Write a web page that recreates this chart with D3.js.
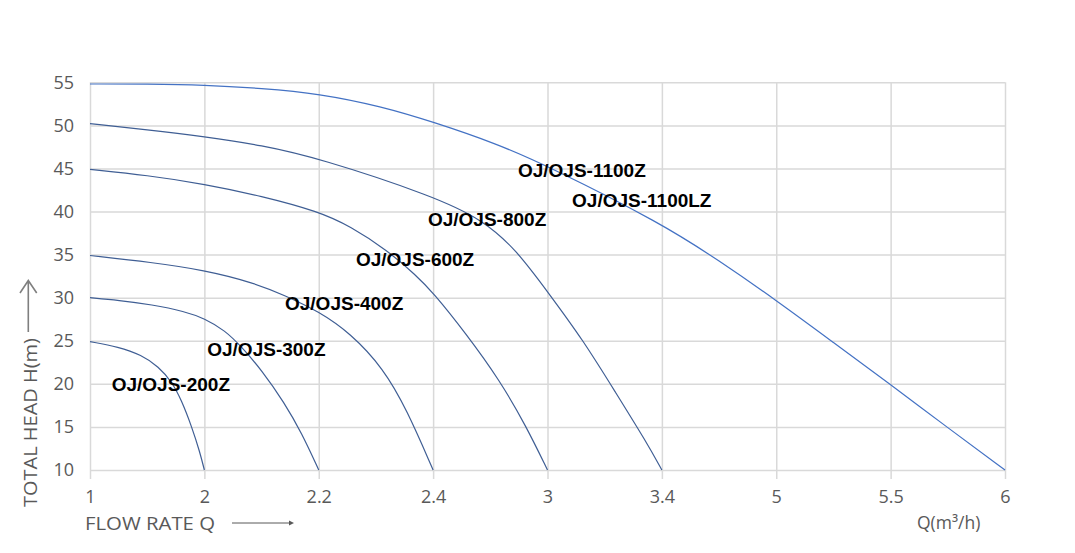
<!DOCTYPE html>
<html>
<head>
<meta charset="utf-8">
<script src="https://cdn.jsdelivr.net/npm/d3@7"></script>
<style>
  body { margin: 0; background: #fff; }
  .tick text { fill: #595959; font-family: "Open Sans", sans-serif; font-size: 18px; }
  .grid line { stroke: #d9d9d9; stroke-width: 1.5; }
  .grid path { display: none; }
  .lbl { font-family: "Liberation Sans", Arial, sans-serif; font-weight: bold; font-size: 19px; fill: #000; }
  .title { font-family: "Open Sans", sans-serif; fill: #595959; }
</style>
</head>
<body>
<div id="chart"></div>
<script>
// tick labels on the flow axis (evenly spaced in the original)
var xTicks = [1, 2, 2.2, 2.4, 3, 3.4, 5, 5.5, 6];
var yTicks = [10, 15, 20, 25, 30, 35, 40, 45, 50, 55];

// pump curves: flow Q (m3/h) and head H (m)
var q200 = [1, 1.25, 1.45, 1.6, 1.715, 1.8, 1.89, 1.96, 2];
var h200 = [24.9, 24.3, 23.35, 22.0, 20.25, 18.1, 15.0, 12.1, 10];

var q300 = [1, 1.25, 1.54, 1.83, 2, 2.036, 2.065, 2.1, 2.14, 2.17, 2.2];
var h300 = [30.0, 29.7, 29.2, 28.4, 27.6, 26.2, 24.3, 21.6, 17.8, 14.3, 10];

var q400 = [1, 1.54, 2, 2.083, 2.14, 2.2, 2.255, 2.313, 2.354, 2.4];
var h400 = [34.9, 34.1, 33.2, 31.8, 30.3, 28.4, 25.9, 21.8, 17.0, 10];

var q600 = [1, 1.5, 2, 2.1, 2.2, 2.255, 2.32, 2.37, 2.4, 2.57, 2.75, 2.89, 3];
var h600 = [44.9, 44.2, 43.2, 41.8, 40.0, 38.3, 35.5, 32.6, 30.6, 25.9, 20.4, 15.0, 10];

var q800 = [1, 1.5, 2, 2.1, 2.2, 2.4, 2.664, 2.838, 3, 3.124, 3.24, 3.345, 3.4];
var h800 = [50.2, 49.5, 48.7, 47.7, 46.2, 41.8, 39.0, 35.5, 30.7, 25.1, 18.9, 13.3, 10];

var q1100 = [1, 1.5, 2, 2.1, 2.2, 2.31, 2.4, 2.73, 3, 3.4, 4.2, 5, 5.25, 5.5, 5.75, 6];
var h1100 = [54.8, 54.8, 54.7, 54.3, 53.7, 52.2, 50.4, 47.9, 45.3, 38.6, 34.3, 29.7, 24.8, 19.9, 14.9, 10];

var series = [
  {q: q200, h: h200, color: "#3f5e94"},
  {q: q300, h: h300, color: "#3f5e94"},
  {q: q400, h: h400, color: "#3f5e94"},
  {q: q600, h: h600, color: "#3f5e94"},
  {q: q800, h: h800, color: "#3f5e94"},
  {q: q1100, h: h1100, color: "#4472c4"}
];

// model names and where they sit (data units: left edge flow, centre head)
var labelNames = ["OJ/OJS-200Z", "OJ/OJS-300Z", "OJ/OJS-400Z", "OJ/OJS-600Z", "OJ/OJS-800Z", "OJ/OJS-1100Z", "OJ/OJS-1100LZ"];
var labelQ = [1.19, 2.005, 2.141, 2.265, 2.391, 2.845, 3.086];
var labelH = [19.9, 24.0, 29.4, 34.4, 39.1, 44.8, 41.3];

var width = 1075, height = 553;
var margin = {top: 82.3, right: 70, bottom: 83, left: 90};
var plotW = width - margin.left - margin.right;
var plotH = height - margin.top - margin.bottom;

var svg = d3.select("#chart").append("svg")
  .attr("width", width)
  .attr("height", height)
  .style("background", "#fff");

// category-like axis: every tick label gets the same width
var x = d3.scaleLinear()
  .domain(xTicks)
  .range(xTicks.map(function (d, i) { return margin.left + i * plotW / (xTicks.length - 1); }));

var y = d3.scaleLinear()
  .domain([10, 55])
  .range([margin.top + plotH, margin.top]);

// horizontal grid + y labels
svg.append("g")
  .attr("class", "grid")
  .attr("transform", "translate(" + margin.left + ",0)")
  .call(d3.axisLeft(y).tickValues(yTicks).tickSize(-plotW).tickPadding(16).tickFormat(d3.format("d")));

// vertical grid + x labels, ticks poke below the axis
var tickOut = 9;
svg.append("g")
  .attr("class", "grid")
  .attr("transform", "translate(0," + (margin.top + plotH + tickOut) + ")")
  .call(d3.axisBottom(x).tickValues(xTicks).tickSize(-(plotH + tickOut)).tickPadding(11).tickFormat(function (d) { return d; }));

svg.selectAll(".grid .tick line").attr("stroke", "#d9d9d9");

// smoothed like the spreadsheet's "smoothed line"
var line = d3.line()
  .x(function (d) { return x(d[0]); })
  .y(function (d) { return y(d[1]); })
  .curve(d3.curveBasis);

svg.append("g").selectAll("path")
  .data(series)
  .enter().append("path")
  .attr("d", function (s) { return line(d3.zip(s.q, s.h)); })
  .attr("fill", "none")
  .attr("stroke", function (s) { return s.color; })
  .attr("stroke-width", 1.2);

svg.append("g").selectAll("text")
  .data(labelNames)
  .enter().append("text")
  .attr("class", "lbl")
  .attr("x", function (d, i) { return x(labelQ[i]); })
  .attr("y", function (d, i) { return y(labelH[i]); })
  .attr("dy", "0.35em")
  .text(function (d) { return d; });

// axis titles
var bottomY = margin.top + plotH;

svg.append("text")
  .attr("class", "title")
  .attr("x", 85)
  .attr("y", bottomY + 60)
  .attr("font-size", 18)
  .attr("textLength", 130)
  .attr("lengthAdjust", "spacingAndGlyphs")
  .text("FLOW RATE Q");

svg.append("line")
  .attr("x1", 232).attr("x2", 290)
  .attr("y1", bottomY + 53).attr("y2", bottomY + 53)
  .attr("stroke", "#595959").attr("stroke-width", 1);
svg.append("path")
  .attr("d", "M294," + (bottomY + 53) + "l-5,-2.5v5z")
  .attr("fill", "#595959");

svg.append("text")
  .attr("class", "title")
  .attr("x", 917)
  .attr("y", bottomY + 59)
  .attr("font-size", 17.5)
  .text("Q(m³/h)");

svg.append("text")
  .attr("class", "title")
  .attr("transform", "translate(37," + (bottomY + 37) + ") rotate(-90)")
  .attr("font-size", 18)
  .attr("textLength", 169)
  .attr("lengthAdjust", "spacingAndGlyphs")
  .text("TOTAL HEAD H(m)");

svg.append("path")
  .attr("d", "M28.3,332V280.5M20,293L28.3,280.5L36.7,293")
  .attr("fill", "none")
  .attr("stroke", "#7f7f7f")
  .attr("stroke-width", 1.6);
</script>
</body>
</html>
